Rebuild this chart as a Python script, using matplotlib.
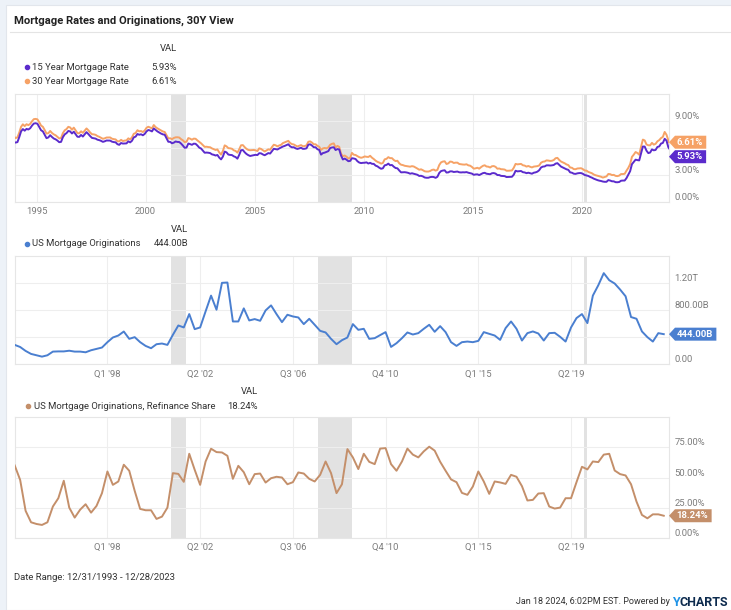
import numpy as np
import matplotlib
matplotlib.use("Agg")
import matplotlib.pyplot as plt
from matplotlib.patches import Polygon, Rectangle
from matplotlib.lines import Line2D
from matplotlib.transforms import blended_transform_factory

plt.rcParams['font.family'] = ['Roboto', 'DejaVu Sans']

# ---- data ----
# weekly Freddie Mac rates, sampled monthly; first = 12/31/1993, last = 12/28/2023
rate30 = [7.17,
          7.07, 7.15, 7.68, 8.32, 8.60, 8.40, 8.61, 8.51, 8.64, 8.93, 9.17, 9.20,   # 1994
          9.15, 8.83, 8.46, 8.32, 7.96, 7.57, 7.61, 7.86, 7.64, 7.48, 7.38, 7.20,   # 1995
          7.03, 7.08, 7.62, 7.93, 8.07, 8.32, 8.25, 8.00, 8.23, 7.92, 7.62, 7.60,   # 1996
          7.82, 7.65, 7.90, 8.14, 7.94, 7.69, 7.50, 7.48, 7.43, 7.29, 7.21, 7.10,   # 1997
          6.99, 7.04, 7.13, 7.14, 7.14, 7.00, 6.95, 6.92, 6.72, 6.71, 6.87, 6.74,   # 1998
          6.79, 6.81, 7.04, 6.92, 7.15, 7.55, 7.63, 7.94, 7.82, 7.85, 7.74, 7.91,   # 1999
          8.21, 8.33, 8.24, 8.15, 8.52, 8.29, 8.15, 8.03, 7.91, 7.80, 7.75, 7.38,   # 2000
          7.03, 7.05, 6.95, 7.08, 7.15, 7.16, 7.13, 6.95, 6.82, 6.62, 6.66, 7.07,   # 2001
          7.00, 6.89, 7.01, 6.99, 6.81, 6.65, 6.49, 6.29, 6.09, 6.11, 6.07, 6.05,   # 2002
          5.92, 5.84, 5.75, 5.81, 5.48, 5.23, 5.63, 6.26, 6.15, 5.95, 5.93, 5.88,   # 2003
          5.71, 5.64, 5.45, 5.83, 6.27, 6.29, 6.06, 5.87, 5.75, 5.72, 5.73, 5.75,   # 2004
          5.71, 5.63, 5.93, 5.86, 5.72, 5.58, 5.70, 5.82, 5.77, 6.07, 6.33, 6.27,   # 2005
          6.15, 6.25, 6.32, 6.51, 6.60, 6.68, 6.76, 6.52, 6.40, 6.36, 6.24, 6.14,   # 2006
          6.22, 6.29, 6.16, 6.18, 6.26, 6.66, 6.70, 6.57, 6.38, 6.38, 6.21, 6.10,   # 2007
          5.76, 5.92, 5.97, 5.92, 6.04, 6.32, 6.43, 6.48, 6.04, 6.20, 6.09, 5.33,   # 2008
          5.06, 5.13, 5.00, 4.81, 4.86, 5.42, 5.22, 5.19, 5.06, 4.95, 4.88, 4.93,   # 2009
          5.03, 4.99, 4.97, 5.10, 4.89, 4.74, 4.56, 4.43, 4.35, 4.23, 4.30, 4.71,   # 2010
          4.76, 4.95, 4.84, 4.84, 4.64, 4.51, 4.55, 4.27, 4.11, 4.07, 3.99, 3.96,   # 2011
          3.92, 3.89, 3.95, 3.91, 3.80, 3.68, 3.55, 3.60, 3.50, 3.38, 3.35, 3.35,   # 2012
          3.41, 3.53, 3.57, 3.45, 3.54, 4.07, 4.37, 4.46, 4.49, 4.19, 4.26, 4.46,   # 2013
          4.43, 4.30, 4.34, 4.34, 4.19, 4.16, 4.13, 4.12, 4.16, 4.04, 4.00, 3.86,   # 2014
          3.67, 3.71, 3.77, 3.67, 3.84, 3.98, 4.05, 3.91, 3.89, 3.80, 3.94, 3.96,   # 2015
          3.87, 3.66, 3.69, 3.61, 3.60, 3.57, 3.44, 3.44, 3.46, 3.47, 3.77, 4.20,   # 2016
          4.15, 4.17, 4.20, 4.05, 4.01, 3.90, 3.97, 3.88, 3.81, 3.90, 3.92, 3.95,   # 2017
          4.03, 4.33, 4.44, 4.47, 4.59, 4.57, 4.53, 4.55, 4.63, 4.83, 4.87, 4.64,   # 2018
          4.46, 4.37, 4.27, 4.14, 4.07, 3.80, 3.77, 3.62, 3.61, 3.69, 3.70, 3.72,   # 2019
          3.62, 3.47, 3.45, 3.31, 3.23, 3.16, 3.02, 2.94, 2.89, 2.83, 2.77, 2.68,   # 2020
          2.74, 2.81, 3.08, 3.06, 2.96, 2.98, 2.87, 2.84, 2.90, 3.07, 3.07, 3.10,   # 2021
          3.45, 3.76, 4.17, 4.98, 5.23, 5.52, 5.41, 5.22, 6.11, 6.90, 6.81, 6.36,   # 2022
          6.27, 6.26, 6.54, 6.34, 6.43, 6.71, 6.84, 7.07, 7.20, 7.75, 7.44, 6.82,   # 2023
          6.61]

rate15 = [6.60,
          6.57, 6.62, 7.17, 7.81, 8.07, 7.89, 8.09, 8.02, 8.16, 8.45, 8.68, 8.72,   # 1994
          8.66, 8.30, 7.94, 7.81, 7.43, 7.06, 7.14, 7.39, 7.19, 7.02, 6.93, 6.79,   # 1995
          6.61, 6.65, 7.17, 7.48, 7.62, 7.86, 7.81, 7.58, 7.78, 7.49, 7.22, 7.20,   # 1996
          7.42, 7.24, 7.49, 7.73, 7.52, 7.29, 7.09, 7.05, 7.01, 6.89, 6.84, 6.76,   # 1997
          6.65, 6.71, 6.80, 6.79, 6.79, 6.67, 6.62, 6.60, 6.39, 6.32, 6.52, 6.46,   # 1998
          6.47, 6.48, 6.71, 6.59, 6.77, 7.15, 7.23, 7.52, 7.44, 7.49, 7.38, 7.53,   # 1999
          7.81, 7.97, 7.91, 7.81, 8.14, 7.97, 7.81, 7.69, 7.57, 7.48, 7.44, 7.06,   # 2000
          6.66, 6.65, 6.49, 6.56, 6.69, 6.64, 6.63, 6.46, 6.24, 5.99, 6.02, 6.46,   # 2001
          6.40, 6.32, 6.45, 6.43, 6.24, 6.01, 5.91, 5.67, 5.44, 5.46, 5.44, 5.40,   # 2002
          5.26, 5.21, 5.13, 5.19, 4.90, 4.70, 5.01, 5.57, 5.48, 5.24, 5.20, 5.18,   # 2003
          5.04, 4.96, 4.78, 5.21, 5.72, 5.74, 5.49, 5.30, 5.17, 5.08, 5.13, 5.17,   # 2004
          5.21, 5.18, 5.39, 5.37, 5.25, 5.16, 5.28, 5.40, 5.35, 5.61, 5.88, 5.84,   # 2005
          5.80, 5.92, 6.02, 6.13, 6.20, 6.29, 6.38, 6.15, 6.04, 6.05, 5.93, 5.86,   # 2006
          5.93, 5.99, 5.87, 5.88, 5.93, 6.33, 6.38, 6.24, 6.05, 6.05, 5.83, 5.76,   # 2007
          5.23, 5.40, 5.45, 5.53, 5.62, 5.96, 6.02, 6.05, 5.74, 5.85, 5.80, 5.13,   # 2008
          4.69, 4.79, 4.67, 4.50, 4.53, 4.83, 4.80, 4.74, 4.50, 4.35, 4.29, 4.32,   # 2009
          4.33, 4.37, 4.24, 4.32, 4.21, 4.20, 4.01, 3.93, 3.78, 3.66, 3.71, 4.04,   # 2010
          4.09, 4.23, 4.05, 4.08, 3.89, 3.74, 3.71, 3.47, 3.26, 3.27, 3.28, 3.25,   # 2011
          3.20, 3.11, 3.16, 3.11, 3.05, 2.99, 2.86, 2.88, 2.81, 2.69, 2.66, 2.66,   # 2012
          2.73, 2.76, 2.74, 2.65, 2.77, 3.19, 3.40, 3.46, 3.49, 3.24, 3.26, 3.37,   # 2013
          3.37, 3.30, 3.33, 3.35, 3.27, 3.25, 3.27, 3.26, 3.29, 3.22, 3.17, 3.12,   # 2014
          2.99, 3.03, 3.04, 2.96, 3.06, 3.17, 3.21, 3.11, 3.08, 3.05, 3.16, 3.18,   # 2015
          3.12, 2.96, 2.96, 2.87, 2.85, 2.84, 2.74, 2.75, 2.75, 2.77, 3.00, 3.44,   # 2016
          3.37, 3.39, 3.41, 3.28, 3.25, 3.17, 3.22, 3.17, 3.11, 3.22, 3.26, 3.34,   # 2017
          3.50, 3.80, 3.90, 3.92, 4.04, 4.04, 4.02, 4.04, 4.08, 4.23, 4.28, 4.09,   # 2018
          3.90, 3.80, 3.71, 3.60, 3.54, 3.26, 3.22, 3.11, 3.09, 3.15, 3.18, 3.18,   # 2019
          3.10, 2.97, 2.92, 2.86, 2.75, 2.67, 2.56, 2.48, 2.40, 2.34, 2.30, 2.24,   # 2020
          2.21, 2.21, 2.40, 2.35, 2.27, 2.26, 2.17, 2.16, 2.19, 2.33, 2.35, 2.35,   # 2021
          2.62, 3.01, 3.39, 4.17, 4.43, 4.67, 4.62, 4.59, 5.35, 6.13, 6.13, 5.67,   # 2022
          5.40, 5.46, 5.81, 5.71, 5.75, 6.08, 6.14, 6.46, 6.53, 6.99, 6.79, 6.06,   # 2023
          5.93]

# quarterly, Q4 1993 .. Q3 2023, billions USD
originations = [286, 255, 197, 153, 133, 113, 133, 187, 190, 190,
                200, 187, 187, 177, 207, 227, 247, 326, 395, 424,
                483, 375, 400, 326, 271, 237, 296, 306, 286, 434,
                572, 543, 740, 518, 543, 780, 1012, 804, 1200, 1205,
                631, 631, 824, 646, 666, 641, 794, 868, 740, 621,
                730, 705, 690, 592, 670, 582, 493, 469, 375, 296,
                355, 395, 592, 508, 523, 375, 385, 430, 474, 256,
                311, 385, 469, 439, 459, 523, 582, 479, 562, 474,
                326, 271, 326, 335, 326, 345, 474, 449, 424, 360,
                533, 631, 523, 350, 459, 484, 454, 350, 459, 464,
                405, 335, 543, 681, 740, 607, 1012, 1165, 1343, 1239,
                1190, 1101, 1002, 696, 671, 484, 400, 335, 459, 444]

# refinance share of originations, %
refi_share = [60, 48, 22.3, 12.8, 11.4, 10.6, 12.8, 25.9, 32.8, 47.3,
              25, 16.7, 23.3, 27.8, 20.8, 26.4, 37, 55, 43.9, 46.7,
              60.6, 55.6, 38.9, 23.9, 22.8, 22.8, 15.6, 17.5, 25, 53.6,
              53, 46.4, 69.7, 56.4, 43.9, 63.3, 73.9, 71.1, 70.8, 68,
              48.9, 59.7, 54.4, 44.4, 52.8, 53.3, 45.8, 49.4, 50.6, 50,
              44.4, 46.1, 54.2, 53.3, 48.9, 46.7, 52.2, 63.3, 53.6, 37,
              44.4, 73.6, 66.7, 57, 69.7, 63, 61.1, 74, 74.4, 61.1,
              55.6, 63.3, 74, 69, 66.7, 71.7, 75.6, 72.3, 63.1, 55.6,
              48.4, 46.1, 37.2, 35.6, 42.5, 55, 46.7, 36.4, 46.7, 45.9,
              44.7, 52.2, 50.6, 42.8, 30.9, 31.4, 36.7, 37, 25.9, 24.2,
              25, 32.8, 32.8, 46.1, 58.9, 56.7, 63.3, 62.8, 69, 69.7,
              55.8, 52.8, 51.7, 44.4, 30, 18.9, 16.1, 19.4, 19.4, 18.24]

recessions = [(2001.17, 2001.85), (2007.92, 2009.45), (2020.08, 2020.24)]
year_ticks = [1995, 2000, 2005, 2010, 2015, 2020]
quarter_ticks = [(1998, 1), (2002, 2), (2006, 3), (2010, 4), (2015, 1), (2019, 2)]

# ---- positions in decimal years ----
t_rates = np.concatenate([[1993.997], 1994 + (np.arange(360) + 0.5) / 12, [2023.99]])
t_quarters = 1994.0 + 0.25 * np.arange(len(originations))

C15, C30 = '#5b2bcc', '#f6a266'
CORIG, CREFI = '#4a7fd0', '#c48f6a'
GRID = '#eeeeee'
TXT = '#333333'
TICK = '#7c7c7c'

W, H = 731, 610
fig = plt.figure(figsize=(W / 100, H / 100), dpi=100)
fig.patch.set_facecolor('#edf2f8')


def fx(px):
    return px / W


def fy(py):
    return 1 - py / H


fig.add_artist(Rectangle((fx(6), 0), 1, fy(5), transform=fig.transFigure,
                         facecolor='white', edgecolor='#e2e6ec', lw=0.8, zorder=0))
fig.text(fx(14), fy(20.5), 'Mortgage Rates and Originations, 30Y View',
         fontsize=8.1, fontweight='bold', color='#222222', va='center')
fig.add_artist(Line2D([fx(10), 1], [fy(31.5), fy(31.5)], color='#e4e4e4', lw=0.8,
                      transform=fig.transFigure))

renderer = fig.canvas.get_renderer()


def make_ax(top, bottom):
    ax = fig.add_axes([fx(14.7), fy(bottom), fx(669) - fx(14.7), (bottom - top) / H])
    ax.set_xlim(1994.0, 2023.99)
    for s in ax.spines.values():
        s.set_color('#e6e6e6')
        s.set_linewidth(0.8)
    ax.grid(True, color=GRID, lw=0.8)
    ax.set_axisbelow(True)
    ax.tick_params(length=0, labelsize=6.8, labelcolor=TICK, pad=4)
    ax.set_yticklabels([])
    for a, b in recessions:
        ax.axvspan(a, b, color='#e2e2e2', lw=0, zorder=0.5)
    return ax


def legend_row(y, dot_x, label, value, color, val_right):
    fig.add_artist(Line2D([fx(dot_x)], [fy(y)], marker='o', ms=3.0, ls='none',
                          color=color, transform=fig.transFigure))
    fig.text(fx(dot_x + 5.5), fy(y), label, fontsize=6.8, color=TXT, va='center')
    fig.text(fx(val_right), fy(y), value, fontsize=6.8, color=TXT, va='center', ha='right')


def value_tag(ax, value, text, color, placed):
    x0 = ax.transAxes.transform((1, 0))[0]
    yc = ax.transData.transform((0, value))[1]
    for p in placed:
        if abs(p - yc) < 14.5:
            yc = p - 14.5
    placed.append(yc)
    t = fig.text((x0 + 7.5) / W, yc / H, text, fontsize=6.8, fontweight='bold',
                 color='white', va='center', ha='left', zorder=6)
    w = t.get_window_extent(renderer).width
    x1 = x0 + 7.5 + w + 3.5
    pts = [(x0, yc), (x0 + 6, yc + 6.5), (x1, yc + 6.5), (x1, yc - 6.5), (x0 + 6, yc - 6.5)]
    fig.add_artist(Polygon([(px / W, py / H) for px, py in pts], closed=True,
                           transform=fig.transFigure, facecolor=color, lw=0, zorder=5))


def y_labels(ax, ticks, fmt, placed):
    tr = blended_transform_factory(ax.transAxes, ax.transData)
    for v in ticks:
        yd = ax.transData.transform((0, v))[1] + 4.5
        if any(abs(yd - p) < 11 for p in placed):
            continue
        ax.text(1 + 5.5 / 654.3, v, fmt(v), transform=tr, fontsize=6.8, color=TICK,
                va='bottom', ha='left')


def fmt_pct(v):
    return f'{v:.2f}%'


def fmt_money(v):
    if v == 0:
        return '0.00'
    if v >= 1000:
        return f'{v / 1000:.2f}T'
    return f'{v:.2f}B'


quarter_pos = [y + q / 4 for y, q in quarter_ticks]
quarter_lab = [f"Q{q} '{y % 100:02d}" for y, q in quarter_ticks]

# ---- panel 1: mortgage rates ----
fig.text(fx(177), fy(48.7), 'VAL', fontsize=6.8, color=TXT, va='center', ha='right')
legend_row(67, 26.6, '15 Year Mortgage Rate', fmt_pct(rate15[-1]), C15, 177)
legend_row(81, 26.6, '30 Year Mortgage Rate', fmt_pct(rate30[-1]), C30, 177)

ax1 = make_ax(93.7, 201.7)
ax1.plot(t_rates, rate30, color=C30, lw=1.4, zorder=3)
ax1.plot(t_rates, rate15, color=C15, lw=1.4, zorder=4)
ax1.set_ylim(0, 12)
ax1.set_yticks([0, 3, 6, 9])
ax1.set_xticks(year_ticks)
ax1.set_xticklabels([str(y) for y in year_ticks])
placed = []
value_tag(ax1, rate30[-1], fmt_pct(rate30[-1]), C30, placed)
value_tag(ax1, rate15[-1], fmt_pct(rate15[-1]), C15, placed)
y_labels(ax1, [0, 3, 6, 9], fmt_pct, placed)

# ---- panel 2: originations ----
fig.text(fx(188), fy(229), 'VAL', fontsize=6.8, color=TXT, va='center', ha='right')
legend_row(244, 26.7, 'US Mortgage Originations', fmt_money(originations[-1]), CORIG, 188)

ax2 = make_ax(255.7, 364.3)
ax2.plot(t_quarters, originations, color=CORIG, lw=1.4, zorder=3)
ax2.set_ylim(0, 1600)
ax2.set_yticks([0, 400, 800, 1200])
ax2.set_xticks(quarter_pos)
ax2.set_xticklabels(quarter_lab)
placed = []
value_tag(ax2, originations[-1], fmt_money(originations[-1]), CORIG, placed)
y_labels(ax2, [0, 400, 800, 1200], fmt_money, placed)

# ---- panel 3: refinance share ----
fig.text(fx(258), fy(391), 'VAL', fontsize=6.8, color=TXT, va='center', ha='right')
legend_row(406.3, 28, 'US Mortgage Originations, Refinance Share',
           fmt_pct(refi_share[-1]), CREFI, 258)

ax3 = make_ax(417.3, 537.7)
ax3.plot(t_quarters, refi_share, color=CREFI, lw=1.4, zorder=3)
ax3.set_ylim(0, 100)
ax3.set_yticks([0, 25, 50, 75])
ax3.set_xticks(quarter_pos)
ax3.set_xticklabels(quarter_lab)
placed = []
value_tag(ax3, refi_share[-1], fmt_pct(refi_share[-1]), CREFI, placed)
y_labels(ax3, [0, 25, 50, 75], fmt_pct, placed)

# ---- footer ----
fig.text(fx(14), fy(577), 'Date Range: 12/31/1993 - 12/28/2023', fontsize=6.8,
         color=TXT, va='center')
t_ch = fig.text(fx(728), fy(602), 'CHARTS', fontsize=9, fontweight='bold',
                color='#0d2b4e', va='center', ha='right')
x_ch = t_ch.get_window_extent(renderer).x0
t_y = fig.text(x_ch / W, fy(602), 'Y', fontsize=9, fontweight='bold',
               color='#1f93e6', va='center', ha='right')
x_y = t_y.get_window_extent(renderer).x0
fig.text((x_y - 2) / W, fy(602), 'Jan 18 2024, 6:02PM EST. Powered by', fontsize=6.5,
         color=TXT, va='center', ha='right')

fig.savefig('out.png', dpi=100, facecolor=fig.get_facecolor())
